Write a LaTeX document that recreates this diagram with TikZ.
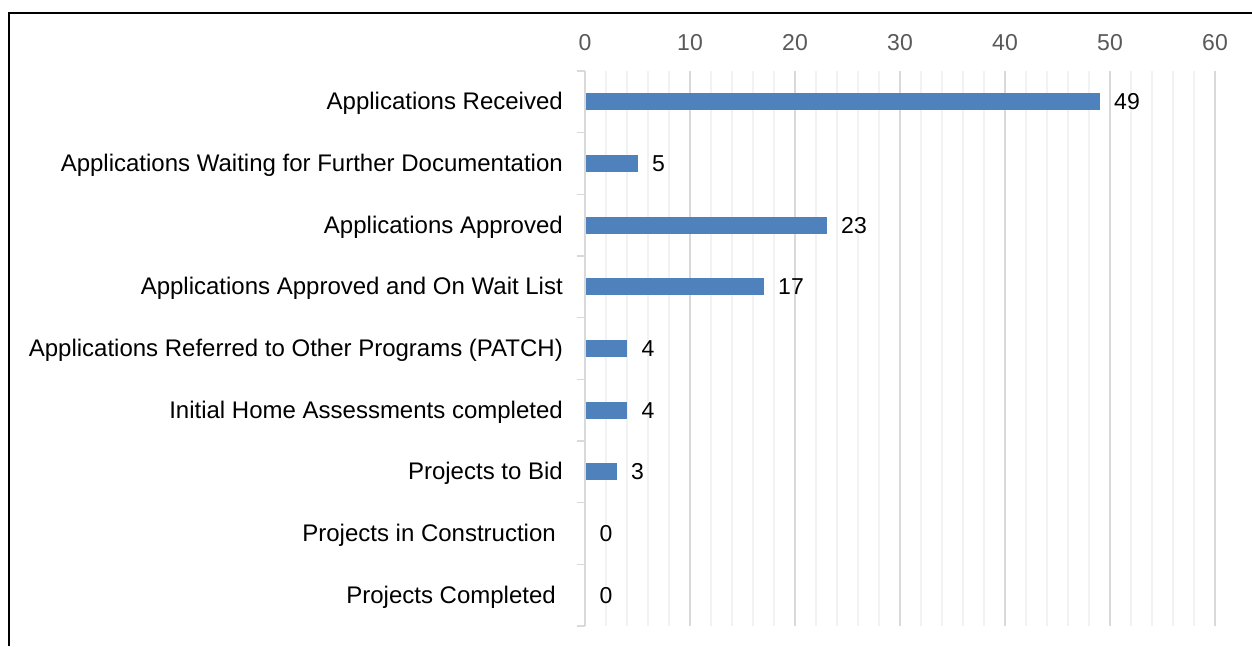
\documentclass[tikz,border=0pt]{standalone}
\usepackage{fontspec}
\setmainfont{Liberation Sans}
\definecolor{barblue}{RGB}{79,129,189}
\definecolor{majgrid}{RGB}{217,217,217}
\definecolor{mingrid}{RGB}{242,242,242}
\definecolor{ticktext}{RGB}{89,89,89}
\begin{document}
\begin{tikzpicture}[x=1pt,y=-1pt,
  txt/.style={font=\fontsize{23}{27}\selectfont, inner sep=0pt},
  catlabel/.style={inner sep=0pt, font=\fontsize{24}{28}\selectfont, anchor=base east, text=black},
  vallabel/.style={txt, anchor=base west, text=black},
  axlabel/.style={txt, anchor=base, text=ticktext},
  bar/.style={fill=barblue, draw=none},
  minorgrid/.style={draw=mingrid, line width=1.3pt},
  majorgrid/.style={draw=majgrid, line width=1.5pt},
  frame/.style={draw=black, line width=2pt}]
\useasboundingbox (0,0) rectangle (1252,646);
\fill[white] (0,0) rectangle (1252,646);
% frame
\draw[frame] (8.5,646) -- (8.5,12.5) -- (1252,12.5);
% grid
\def\xz{585}
\def\sc{10.5}
\def\ytop{71}
\def\ybot{626}
\foreach \v in {2,4,6,8,12,14,16,18,22,24,26,28,32,34,36,38,42,44,46,48,52,54,56,58}
  \draw[minorgrid] ({\xz+\v*\sc},\ytop) -- ({\xz+\v*\sc},\ybot);
\foreach \v in {10,20,30,40,50,60}
  \draw[majorgrid] ({\xz+\v*\sc},\ytop) -- ({\xz+\v*\sc},\ybot);
% axis line and ticks
\draw[majorgrid] (\xz,\ytop) -- (\xz,\ybot);
\foreach \k in {0,...,9}
  \draw[majorgrid] (577,{\ytop+\k*61.667}) -- (\xz,{\ytop+\k*61.667});
% axis labels
\foreach \v in {0,10,20,30,40,50,60}
  \node[axlabel] (ax\v) at ({\xz+\v*\sc},50) {\v};
% bars and labels
\foreach \k/\val/\lab/\lx in {
  0/49/Applications Received/563,
  1/5/Applications Waiting for Further Documentation/563,
  2/23/Applications Approved/563,
  3/17/Applications Approved and On Wait List/563,
  4/4/Applications Referred to Other Programs (PATCH)/563,
  5/4/Initial Home Assessments completed/563,
  6/3/Projects to Bid/563,
  7/0/Projects in Construction/556,
  8/0/Projects Completed/556}
{
  \pgfmathsetmacro{\yc}{\ytop+(\k+0.5)*61.667}
  \pgfmathsetmacro{\xe}{\xz+\val*\sc}
  \ifnum\val>0
    \fill[bar] (\xz+1,\yc-8.5) rectangle (\xe,\yc+8.5);
  \fi
  \node[catlabel] (cat\k) at (\lx,\yc+8) {\lab};
  \node[vallabel] (val\k) at (\xe+14.5,\yc+8) {\val};
}
\end{tikzpicture}
\end{document}
